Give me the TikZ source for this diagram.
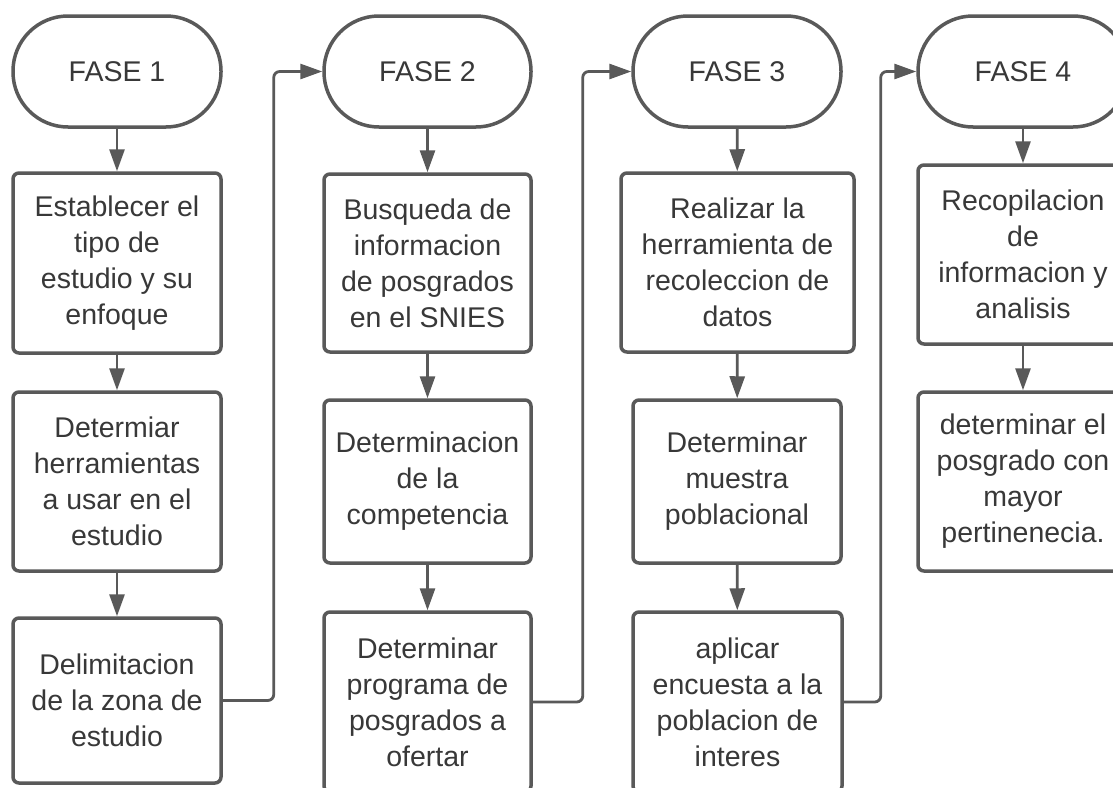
\documentclass[tikz,border=0pt]{standalone}
\usepackage{fontspec}
\setmainfont{Liberation Sans}
\usetikzlibrary{arrows.meta}
\definecolor{lc}{HTML}{595959}
\definecolor{tc}{HTML}{383838}
\begin{document}
\begin{tikzpicture}[x=1pt,y=-1pt,
  box/.style={draw=lc, line width=3.5pt, rounded corners=6pt, align=center,
    font=\fontsize{28.5}{36}\selectfont, text=tc, inner sep=0pt, fill=white},
  term/.style={box, rounded corners=55pt, minimum height=111pt},
  arr/.style={draw=lc, line width=2.8pt, -{Triangle[length=22pt,width=15pt]}},
  conn/.style={arr, rounded corners=6pt}]
\useasboundingbox (0,0) rectangle (1113,787);
\fill[white] (0,0) rectangle (1113,787);
% column 1
\node[term, minimum width=208pt] (t1) at (117,71.5) {FASE 1};
\node[box, minimum width=208pt, minimum height=180pt] (a1) at (117,263) {Establecer el\\tipo de\\estudio y su\\enfoque};
\node[box, minimum width=208pt, minimum height=179pt] (a2) at (117,481.5) {Determiar\\herramientas\\a usar en el\\estudio};
\node[box, minimum width=208pt, minimum height=165pt] (a3) at (117,700.5) {Delimitacion\\de la zona de\\estudio};
% column 2
\node[term, minimum width=207pt] (t2) at (427.5,71.5) {FASE 2};
\node[box, minimum width=207pt, minimum height=178pt] (b1) at (427.5,263) {Busqueda de\\informacion\\de posgrados\\en el SNIES};
\node[box, minimum width=207pt, minimum height=163pt] (b2) at (427.5,481.5) {Determinacion\\de la\\competencia};
\node[box, minimum width=207pt, minimum height=180pt] (b3) at (427.5,702) {Determinar\\programa de\\posgrados a\\ofertar};
% column 3
\node[term, minimum width=208pt] (t3) at (737,71.5) {FASE 3};
\node[box, minimum width=233pt, minimum height=179pt] (c1) at (737.5,262.5) {Realizar la\\herramienta de\\recoleccion de\\datos};
\node[box, minimum width=208pt, minimum height=163pt] (c2) at (737,481.5) {Determinar\\muestra\\poblacional};
\node[box, minimum width=209pt, minimum height=180pt] (c3) at (737.5,702) {aplicar\\encuesta a la\\poblacion de\\interes};
% column 4
\node[term, minimum width=210pt] (t4) at (1023,71.5) {FASE 4};
\node[box, minimum width=210pt, minimum height=179pt] (d1) at (1023,254.5) {Recopilacion\\de\\informacion y\\analisis};
\node[box, minimum width=210pt, minimum height=179pt] (d2) at (1023,481.5) {determinar el\\posgrado con\\mayor\\pertinenecia.};
% vertical arrows
\draw[arr] (t1) -- (a1);
\draw[arr] (a1) -- (a2);
\draw[arr] (a2) -- (a3);
\draw[arr] (t2) -- (b1);
\draw[arr] (b1) -- (b2);
\draw[arr] (b2) -- (b3);
\draw[arr] (t3) -- (c1);
\draw[arr] (c1) -- (c2);
\draw[arr] (c2) -- (c3);
\draw[arr] (t4) -- (d1);
\draw[arr] (d1) -- (d2);
% phase connectors
\draw[conn] (a3.east) -- ++(51,0) |- (t2.west);
\draw[conn] (b3.east) -- ++(50,0) |- (t3.west);
\draw[conn] (c3.east) -- ++(37,0) |- (t4.west);
\end{tikzpicture}
\end{document}
